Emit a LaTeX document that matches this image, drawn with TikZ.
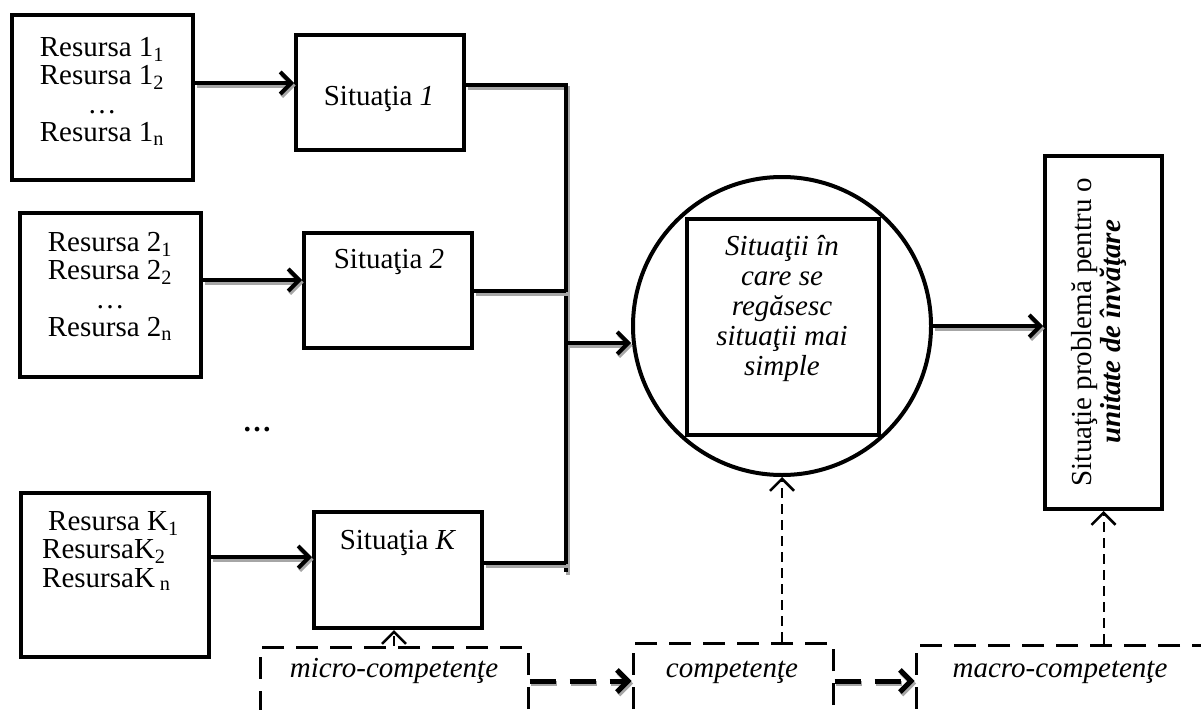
\documentclass[tikz,border=0pt]{standalone}
\usepackage{fontspec}
\setmainfont{Liberation Serif}
\usetikzlibrary{arrows.meta}
\begin{document}
\begin{tikzpicture}[x=1pt,y=-1pt,
  box/.style={draw, line width=4pt, inner sep=0pt},
  dbox/.style={draw, line width=3pt, inner sep=0pt, dash pattern=on 22pt off 12pt},
  lbl/.style={inner sep=0pt, font=\fontsize{29}{28.5}\selectfont},
  ilbl/.style={inner sep=0pt, font=\fontsize{29}{28.5}\selectfont\itshape},
  conn/.style={line width=4pt, -{Straight Barb[length=11pt,width=22pt]},
    preaction={draw=black!35, line width=4pt, transform canvas={shift={(1.5pt,-2.5pt)}}}},
  wire/.style={line width=4pt,
    preaction={draw=black!35, line width=4pt, transform canvas={shift={(1.5pt,-2.5pt)}}}},
  dlink/.style={line width=5pt, dash pattern=on 26pt off 14pt,
    -{Straight Barb[length=11pt,width=22pt]},
    preaction={draw=black!35, line width=5pt, dash pattern=on 26pt off 14pt,
      -{Straight Barb[length=11pt,width=22pt]}, transform canvas={shift={(1.5pt,-2.5pt)}}}},
  dup/.style={line width=2pt, dash pattern=on 10pt off 6pt,
    -{Straight Barb[length=12pt,width=24pt,line width=2.5pt]}},
]
\useasboundingbox (0,0) rectangle (1201,709);
\begin{scope}
\clip (0,0) rectangle (1201,709);

% resources
\node[box, minimum width=181pt, minimum height=165pt] (r1) at (102.5,97.5) {};
\node[box, minimum width=181pt, minimum height=164pt] (r2) at (110.5,295) {};
\node[box, minimum width=188pt, minimum height=164pt] (rk) at (115,575) {};

\node[lbl, align=center, anchor=north] (r1t) at (102,37)
  {Resursa 1\textsubscript{1}\\Resursa 1\textsubscript{2}\\\ldots\\Resursa 1\textsubscript{n}};
\node[lbl, align=center, anchor=north] (r2t) at (110,232)
  {Resursa 2\textsubscript{1}\\Resursa 2\textsubscript{2}\\\ldots\\Resursa 2\textsubscript{n}};
\node[lbl, align=left, anchor=north west] (rkt) at (42,511)
  {\hspace*{6pt}Resursa K\textsubscript{1}\\ResursaK\textsubscript{2}\\ResursaK\,\textsubscript{n}};

\node[lbl, anchor=base] (dots) at (257,431) {\textbf{\ldots}};

% situations
\node[box, minimum width=168pt, minimum height=115pt] (s1) at (380,92.5) {};
\node[box, minimum width=168pt, minimum height=115pt] (s2) at (388,290.5) {};
\node[box, minimum width=168pt, minimum height=116pt] (sk) at (398,570) {};

\node[lbl, anchor=base] (s1t) at (379,105) {Situaţia \textit{1}};
\node[lbl, anchor=base] (s2t) at (389,268) {Situaţia \textit{2}};
\node[lbl, anchor=base] (skt) at (398,549) {Situaţia \textit{K}};

% composite situation
\node[box, circle, minimum size=298pt] (circ) at (782,326) {};
\node[box, minimum width=192pt, minimum height=216pt] (sq) at (783,327) {};
\node[lbl, align=center, anchor=north, font=\fontsize{29}{30}\selectfont\itshape] (sqt) at (782,235)
  {Situaţii în\\care se\\regăsesc\\situaţii mai\\simple};

% learning unit
\node[box, minimum width=117pt, minimum height=353pt] (rb) at (1103.5,332.5) {};
\node[lbl, align=center, rotate=90] (rbt) at (1099,332)
  {Situaţie problemă pentru o\\\textbf{\textit{unitate de învăţare}}};

% competence levels
\node[dbox, minimum width=268pt, minimum height=100pt] (micro) at (394,697) {};
\node[dbox, minimum width=200pt, minimum height=100pt] (comp) at (733,693) {};
\node[dbox, minimum width=320pt, minimum height=100pt] (macro) at (1076,695) {};
\node[ilbl, anchor=base] (microt) at (394,677) {micro-competenţe};
\node[ilbl, anchor=base] (compt) at (732,677) {competenţe};
\node[ilbl, anchor=base] (macrot) at (1060,677) {macro-competenţe};

% collecting bus
\coordinate (bustop) at (566,85);
\coordinate (busbot) at (566,572);
\coordinate (busmid) at (566,343);

% connectors
\draw[conn] (r1.east |- 0,83) -- (s1.west |- 0,83);
\draw[conn] (r2.east |- 0,280) -- (s2.west |- 0,280);
\draw[conn] (rk.east |- 0,557) -- (sk.west |- 0,557);

\draw[wire] (s1.east |- bustop) -- (bustop) -- (busbot);
\draw[wire] (s2.east |- 0,291) -- (bustop |- 0,291);
\draw[wire] (sk.east |- 0,563) -- (bustop |- 0,563);
\draw[conn] (busmid) -- (circ.west |- busmid);
\draw[conn] (circ.east) -- (rb.west |- circ.east);

\draw[dup] (micro.north) -- (micro.north |- sk.south);
\draw[dup] (comp.north -| circ.south) -- (circ.south);
\draw[dup] (macro.north -| rb.south) -- (rb.south);

\draw[dlink] (micro.east |- 0,681) -- (comp.west |- 0,681);
\draw[dlink] (comp.east |- 0,681) -- (macro.west |- 0,681);
\end{scope}
\end{tikzpicture}
\end{document}
